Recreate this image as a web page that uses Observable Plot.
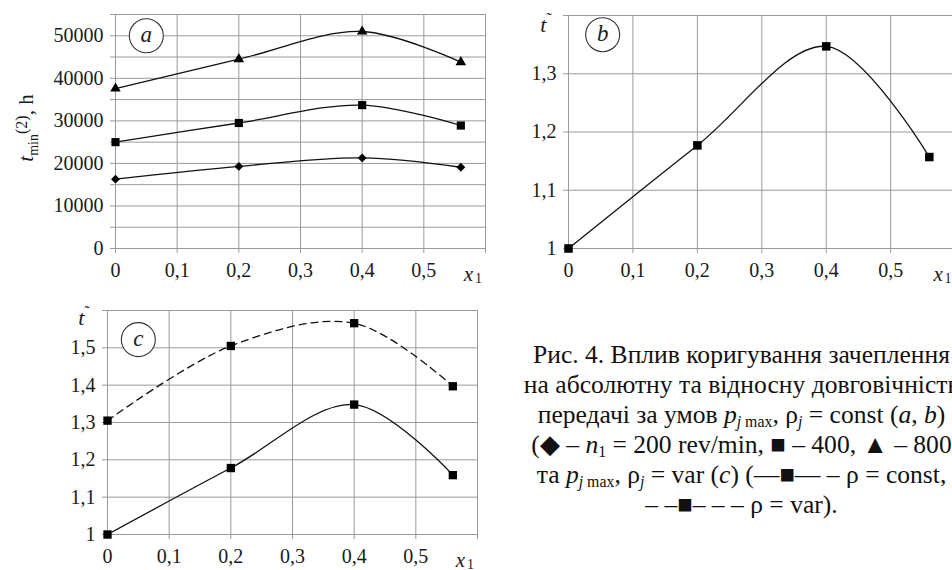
<!DOCTYPE html>
<html><head><meta charset="utf-8">
<script src="https://cdn.jsdelivr.net/npm/d3@7"></script>
<script src="https://cdn.jsdelivr.net/npm/@observablehq/plot@0.6"></script>
<style>
body{margin:0;width:952px;height:570px;overflow:hidden;background:#fff;font-family:"Liberation Serif","Times New Roman",Times,serif;}
#root{position:relative;width:952px;height:570px;overflow:hidden;}
.panel{position:absolute;}
.cap{position:absolute;left:741.5px;transform:translateX(-50%);white-space:nowrap;font-size:26px;line-height:30px;color:#111;}
.cap sub{font-size:0.62em;vertical-align:-0.25em;line-height:0;}
</style></head><body><div id="root"></div>
<script>
// ---- data ----
const xValues = [0, 0.2, 0.4, 0.56];
const aDiamond = [16300, 19300, 21300, 19100];   // n1 = 200 rev/min
const aSquare = [25000, 29500, 33700, 28900];    // 400
const aTriangle = [37600, 44500, 51000, 43800];  // 800
const bConst = [1.0, 1.177, 1.347, 1.157];
const cConst = [1.0, 1.178, 1.348, 1.159];
const cVar = [1.305, 1.505, 1.566, 1.397];
const xTicks = [0, 0.1, 0.2, 0.3, 0.4, 0.5, 0.6];
const aYTicks = d3.range(0, 55001, 5000);
const bYTicks = [1, 1.1, 1.2, 1.3, 1.4];
const cYTicks = [1, 1.1, 1.2, 1.3, 1.4, 1.5, 1.6];
const panelLetters = [
  {panel: "a", x: 0.05, y: 50000},
  {panel: "b", x: 0.053, y: 1.367},
  {panel: "c", x: 0.05, y: 1.522}
];

const FONT = '"Liberation Serif","Times New Roman",Times,serif';
const GRID = "#9a9a9a";
const comma = d => String(+d.toFixed(2)).replace(".", ",");

function series(vals, name) { return xValues.map((x, i) => ({x, y: vals[i], s: name})); }

function panel({width, height, mL, mR, mT, mB, yDomain, yTicks, yLabel, lines, letter}) {
  const marks = [
    Plot.gridX(xTicks, {stroke: GRID, strokeOpacity: 1}),
    Plot.gridY(yTicks, {stroke: GRID, strokeOpacity: 1}),
    Plot.axisX(xTicks, {tickSize: 5, stroke: GRID, fill: "#1a1a1a", fontSize: 20, tickPadding: 9, label: null,
      tickFormat: d => d >= 0.59 ? "" : comma(d)}),
    Plot.axisY(yTicks, {tickSize: 5, stroke: GRID, fill: "#1a1a1a", fontSize: 20, tickPadding: 7, label: null, tickFormat: yLabel}),
    Plot.frame({stroke: GRID}),
    Plot.text([{x: 0.6, y: yDomain[0]}], {x: "x", y: "y", text: () => "x", fontStyle: "italic", fontSize: 21,
      dx: -17, dy: 26, fill: "#1a1a1a"}),
    Plot.text([{x: 0.6, y: yDomain[0]}], {x: "x", y: "y", text: () => "1", fontSize: 14,
      dx: -7, dy: 30, fill: "#1a1a1a"})
  ];
  for (const l of lines) {
    marks.push(Plot.line(l.data, {x: "x", y: "y", curve: "catmull-rom", stroke: "#111", strokeWidth: 1.3,
      strokeDasharray: l.dash || null}));
    marks.push(Plot.dot(l.data, {x: "x", y: "y", symbol: l.symbol, r: l.r, fill: "#000", stroke: "none"}));
  }
  const L = panelLetters.filter(d => d.panel === letter);
  marks.push(Plot.dot(L, {x: "x", y: "y", r: 17, stroke: "#333", strokeWidth: 1.1, fill: "white"}));
  marks.push(Plot.text(L, {x: "x", y: "y", text: "panel", fontStyle: "italic", fontSize: 23, dy: -1, fill: "#222"}));
  return Plot.plot({
    width, height, marginLeft: mL, marginRight: mR, marginTop: mT, marginBottom: mB,
    x: {domain: [0, 0.6], label: null}, y: {domain: yDomain, label: null},
    style: {fontFamily: FONT, fontSize: "20px", background: "transparent", overflow: "visible", color: "#1a1a1a"},
    marks
  });
}

const root = document.getElementById("root");
function place(svg, left, top) {
  svg.classList.add("panel");
  svg.style.left = left + "px";
  svg.style.top = top + "px";
  svg.style.position = "absolute";
  root.appendChild(svg);
  return svg;
}
function tildeLabel(svg, x, y) {
  const t = d3.select(svg).append("text").attr("x", x).attr("y", y).attr("text-anchor", "middle")
    .attr("font-family", FONT).attr("font-size", 22).attr("fill", "#1a1a1a");
  t.append("tspan").attr("font-style", "italic").text("t");
  t.append("tspan").attr("font-size", 16).attr("dx", 0).attr("dy", -8).text("˜");
}

// Panel a
const pa = panel({width: 490, height: 290, mL: 115, mR: 5, mT: 14, mB: 42, yDomain: [0, 55000], yTicks: aYTicks,
  yLabel: d => d % 10000 === 0 ? String(d) : "", letter: "a",
  lines: [
    {data: series(aDiamond, "200"), symbol: "diamond2", r: 4.0},
    {data: series(aSquare, "400"), symbol: "square", r: 4.6},
    {data: series(aTriangle, "800"), symbol: "triangle", r: 3.9}
  ]});
place(pa, 0, 0);
{
  const t = d3.select(pa).append("text").attr("transform", "translate(33,128) rotate(-90)")
    .attr("text-anchor", "middle").attr("font-family", FONT).attr("font-size", 21).attr("fill", "#1a1a1a");
  t.append("tspan").attr("font-style", "italic").text("t");
  t.append("tspan").attr("font-size", 14).attr("dy", 5).text("min");
  t.append("tspan").attr("font-size", 16).attr("dy", -11).text("(2)");
  t.append("tspan").attr("dy", 6).text(", h");
}

// Panel b
const pb = panel({width: 480, height: 290, mL: 88, mR: 5.4, mT: 15, mB: 42, yDomain: [1, 1.4], yTicks: bYTicks,
  yLabel: d => d > 1.35 ? "" : comma(d), letter: "b",
  lines: [{data: series(bConst, "const"), symbol: "square", r: 4.8}]});
place(pb, 480, 0);
tildeLabel(pb, 66, 32);

// Panel c
const pc = panel({width: 490, height: 280, mL: 107, mR: 13, mT: 20, mB: 36, yDomain: [1, 1.6], yTicks: cYTicks,
  yLabel: d => d > 1.55 ? "" : comma(d), letter: "c",
  lines: [
    {data: series(cVar, "var"), symbol: "square", r: 4.7, dash: "7,5"},
    {data: series(cConst, "const"), symbol: "square", r: 4.7}
  ]});
place(pc, 0, 290);
tildeLabel(pc, 84, 35);

// Caption
const captionLines = [
  'Рис. 4. Вплив коригування зачеплення',
  'на абсолютну та відносну довговічність',
  'передачі за умов <i>p</i><sub><i>j</i> max</sub>, ρ<sub><i>j</i></sub> = const (<i>a</i>, <i>b</i>)',
  '(◆ – <i>n</i><sub>1</sub> = 200 rev/min, ■ – 400, ▲ – 800',
  'та <i>p</i><sub><i>j</i> max</sub>, ρ<sub><i>j</i></sub> = var (<i>c</i>) (—■— – ρ = const,',
  '– –■– – – ρ = var).'
];
const capDivs = captionLines.map((html, i) => {
  const d = document.createElement("div");
  d.className = "cap";
  d.style.top = (340 + 30 * i) + "px";
  d.innerHTML = html;
  root.appendChild(d);
  return d;
});
// fit the first caption line to the width it spans in the reference (~417px)
{
  const w = capDivs[0].getBoundingClientRect().width;
  const fs = Math.max(20, Math.min(28, 26 * 417 / w));
  capDivs.forEach(d => d.style.fontSize = fs.toFixed(2) + "px");
}
</script></body></html>
